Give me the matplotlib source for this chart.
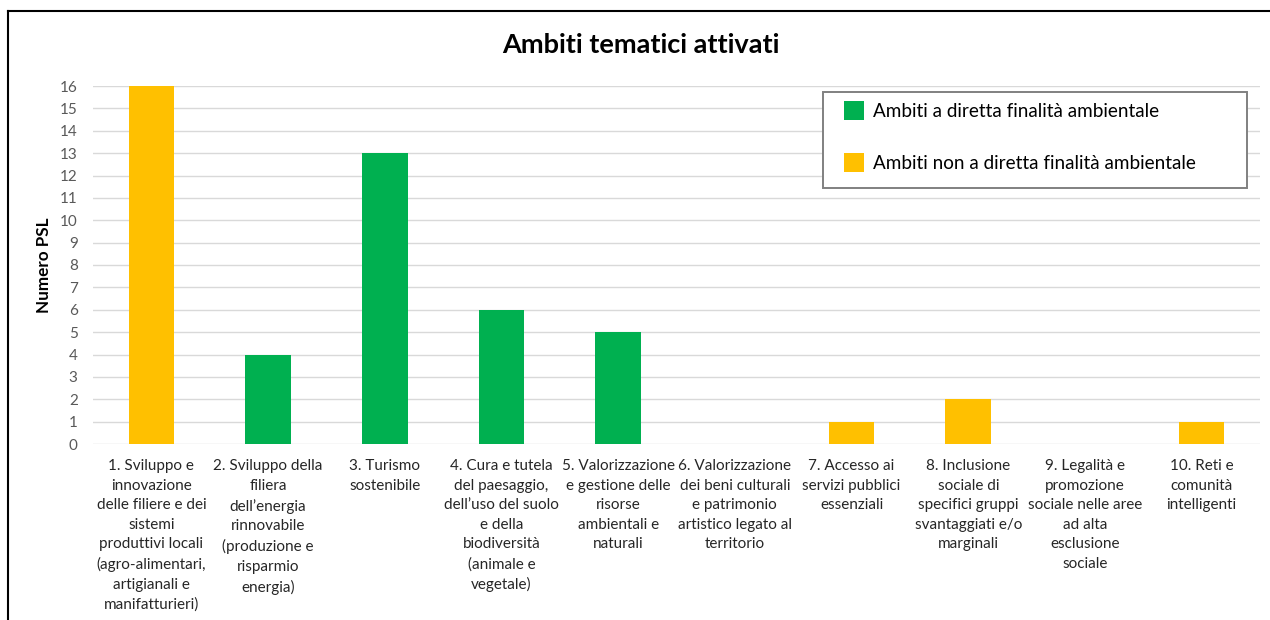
import numpy as np
import matplotlib
matplotlib.use('Agg')
import matplotlib.pyplot as plt
from matplotlib.patches import Patch, Rectangle
from matplotlib.lines import Line2D

plt.rcParams['font.family'] = ['Lato', 'DejaVu Sans']

# dati
categorie = [
    "1. Sviluppo e\ninnovazione\ndelle filiere e dei\nsistemi\nproduttivi locali\n(agro-alimentari,\nartigianali e\nmanifatturieri)",
    "2. Sviluppo della\nfiliera\ndell\u2019energia\nrinnovabile\n(produzione e\nrisparmio\nenergia)",
    "3. Turismo\nsostenibile",
    "4. Cura e tutela\ndel paesaggio,\ndell\u2019uso del suolo\ne della\nbiodiversit\u00e0\n(animale e\nvegetale)",
    "5. Valorizzazione\ne gestione delle\nrisorse\nambientali e\nnaturali",
    "6. Valorizzazione\ndei beni culturali\ne patrimonio\nartistico legato al\nterritorio",
    "7. Accesso ai\nservizi pubblici\nessenziali",
    "8. Inclusione\nsociale di\nspecifici gruppi\nsvantaggiati e/o\nmarginali",
    "9. Legalit\u00e0 e\npromozione\nsociale nelle aree\nad alta\nesclusione\nsociale",
    "10. Reti e\ncomunit\u00e0\nintelligenti",
]
valori = [16, 4, 13, 6, 5, 0, 1, 2, 0, 1]
ambientale = [False, True, True, True, True, False, False, False, False, False]
etichette_legenda = ["Ambiti a diretta finalit\u00e0 ambientale",
                     "Ambiti non a diretta finalit\u00e0 ambientale"]
VERDE = '#00B050'
GIALLO = '#FFC000'

W, H = 1270, 620
fig = plt.figure(figsize=(12.7, 6.2), dpi=100)
ax = fig.add_axes([93 / W, 1 - 444 / H, 1167 / W, 358 / H])

x = np.arange(len(valori))
colori = [VERDE if a else GIALLO for a in ambientale]
ax.bar(x, valori, width=0.39, color=colori, zorder=3)

ax.set_xlim(-0.5, len(valori) - 0.5)
ax.set_ylim(0, 16)
ax.set_yticks(range(0, 17))
ax.yaxis.grid(True, color='#D9D9D9', linewidth=1.0, zorder=0)
ax.tick_params(axis='y', length=0, labelsize=11, labelcolor='#595959', pad=11)
ax.set_xticks(x)
ax.set_xticklabels(categorie, fontsize=11, color='#262626', linespacing=1.5)
ax.tick_params(axis='x', length=0, pad=11)
for s in ax.spines.values():
    s.set_visible(False)

ax.set_ylabel('Numero PSL', fontsize=12.3, fontweight='bold', labelpad=6)

fig.text(641 / W, 1 - 45 / H, 'Ambiti tematici attivati', ha='center', va='center',
         fontsize=19.5, fontweight='bold')

# legenda
fig.add_artist(Rectangle((823 / W, 1 - 188 / H), 424 / W, 96 / H, transform=fig.transFigure,
                         facecolor='white', edgecolor='#808080', linewidth=1.4, zorder=5))
maniglie = [Patch(facecolor=VERDE), Patch(facecolor=GIALLO)]
leg = fig.legend(maniglie, etichette_legenda, loc='upper left',
                 bbox_to_anchor=(844 / W, 1 - 101 / H), fontsize=13.6,
                 frameon=False, labelspacing=1.75,
                 handlelength=1.05, handleheight=1.15, handletextpad=0.5,
                 borderpad=0, borderaxespad=0)
leg.set_zorder(6)

# cornice
fig.add_artist(Line2D([7.5 / W, 7.5 / W], [0, 1 - 11 / H], color='black', linewidth=1.5))
fig.add_artist(Line2D([7.5 / W, 1], [1 - 11 / H, 1 - 11 / H], color='black', linewidth=1.5))

fig.savefig('out.png', dpi=100)
